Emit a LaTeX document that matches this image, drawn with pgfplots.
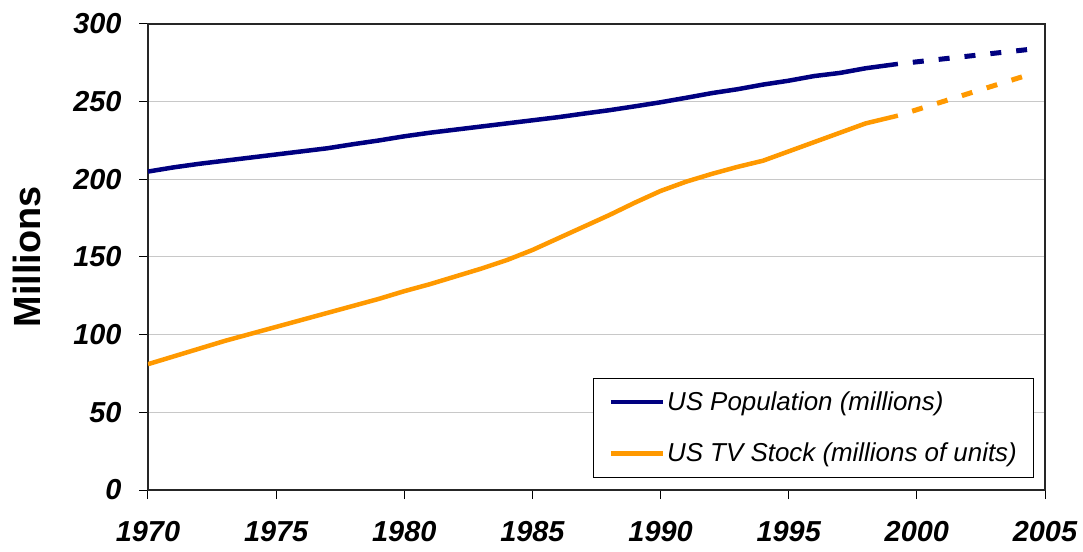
\documentclass[border=0pt]{standalone}
\usepackage{pgfplots}
\pgfplotsset{compat=1.18}
\usepackage{fontspec}
\setmainfont{Liberation Sans}
\definecolor{popblue}{HTML}{000080}
\definecolor{tvorange}{HTML}{FF9900}
\definecolor{gridgray}{HTML}{C8C8C8}

% US population, millions
\pgfplotstableread{
year pop
1970 205.0
1971 207.7
1972 210.0
1973 212.0
1974 214.0
1975 216.0
1976 218.0
1977 220.0
1978 222.6
1979 225.0
1980 227.7
1981 230.0
1982 232.0
1983 234.0
1984 236.0
1985 238.0
1986 240.0
1987 242.3
1988 244.5
1989 247.0
1990 249.6
1991 252.5
1992 255.5
1993 258.0
1994 261.0
1995 263.5
1996 266.5
1997 268.5
1998 271.5
1999.26 274.3
}\poptable

% US TV stock, millions of units
\pgfplotstableread{
year tv
1970 81.0
1971 86.0
1972 91.0
1973 96.0
1974 100.5
1975 105.0
1976 109.5
1977 114.0
1978 118.5
1979 123.0
1980 128.0
1981 132.5
1982 137.5
1983 142.5
1984 148.0
1985 154.5
1986 162.0
1987 169.5
1988 177.0
1989 185.0
1990 192.5
1991 198.5
1992 203.5
1993 208.0
1994 212.0
1995 218.0
1996 224.0
1997 230.0
1998 236.0
1999.26 241.0
}\tvtable

\begin{document}
\begin{tikzpicture}
% page frame: 148bp left of the plot area, 38bp right, 24bp above, 62bp below
\useasboundingbox (-148bp,-62bp) rectangle (935bp,490bp);
\begin{axis}[
    at={(0,0)}, anchor=south west,
    scale only axis,
    width=897bp, height=466bp,
    xmin=1970, xmax=2005,
    ymin=0, ymax=300,
    xtick={1970,1975,...,2005},
    ytick={0,50,...,300},
    tick pos=left,
    /pgf/number format/assume math mode=true,
    xticklabel={\pgfmathprintnumber[1000 sep={}]{\tick}},
    ticklabel style={font=\fontsize{29}{30}\selectfont\bfseries\itshape},
    xticklabel style={yshift=-19bp},
    yticklabel style={xshift=-14bp},
    tick align=outside,
    major tick length=9bp,
    tick style={line width=1bp, black},
    axis line style={line width=1.3bp, black!85},
    ymajorgrids,
    grid style={gridgray, line width=1bp},
    ylabel={\bfseries Millions},
    ylabel style={font=\fontsize{38}{40}\selectfont, at={(axis description cs:-0.135,0.5)}, anchor=center},
    legend style={at={(rel axis cs:0.988,0.026)}, anchor=south east,
        font=\fontsize{26}{30}\selectfont\itshape, draw=black, line width=0.8bp,
        inner xsep=15bp, inner ysep=12bp, row sep=27bp},
    legend cell align=left,
    legend image code/.code={\draw[#1, line width=4.5bp] (0bp,0bp) -- (52bp,0bp);},
]
\addplot[popblue, line width=4.5bp] table[x=year, y=pop] {\poptable};
\addlegendentry{US Population (millions)}
\addplot[tvorange, line width=4.5bp] table[x=year, y=tv] {\tvtable};
\addlegendentry{US TV Stock (millions of units)}
\addplot[popblue, line width=5bp, dash pattern=on 11bp off 15bp, dash phase=11bp, forget plot] coordinates {(1999.26,274.3) (2004.3,283.5)};
\addplot[tvorange, line width=5bp, dash pattern=on 11bp off 15bp, dash phase=11bp, forget plot] coordinates {(1999.26,241.0) (2004.3,267.0)};
\end{axis}
\end{tikzpicture}
\end{document}
